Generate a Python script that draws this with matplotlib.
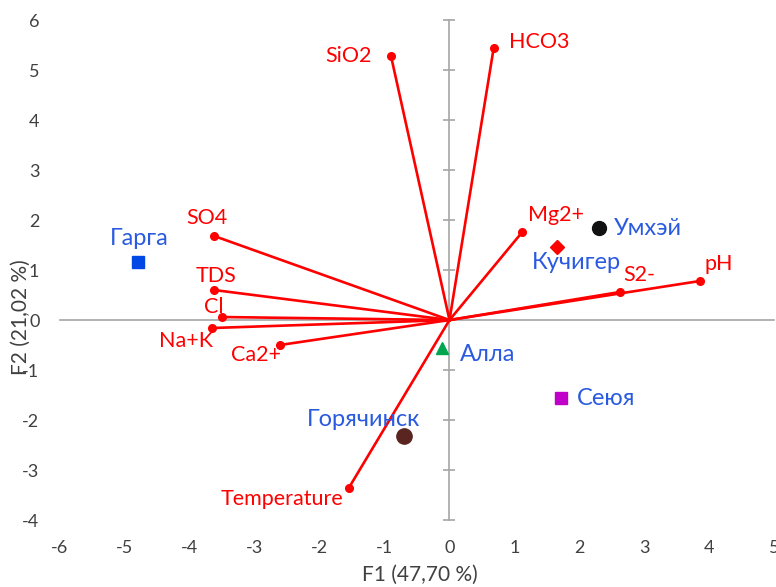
import matplotlib
matplotlib.use("Agg")
import matplotlib.pyplot as plt

plt.rcParams['font.family'] = ['Lato', 'DejaVu Sans']
plt.rcParams['axes.unicode_minus'] = False

# variables (loadings)
var_names = ["SiO2", "HCO3", "SO4", "Mg2+", "TDS", "Cl", "Na+K", "Ca2+", "S2-", "pH", "Temperature"]
var_x = [-0.90, 0.68, -3.62, 1.12, -3.62, -3.50, -3.65, -2.61, 2.62, 3.85, -1.55]
var_y = [5.28, 5.44, 1.68, 1.76, 0.60, 0.06, -0.16, -0.50, 0.56, 0.78, -3.36]

# observations (sites)
obs_names = ["Гарга", "Умхэй", "Кучигер", "Алла", "Сеюя", "Горячинск"]
obs_x = [-4.79, 2.30, 1.65, -0.12, 1.71, -0.70]
obs_y = [1.16, 1.84, 1.46, -0.56, -1.56, -2.32]

# label placement (offset in points, horizontal alignment)
var_off = [(-14, 0, 'right'), (11, 4, 'left'), (-5, 13, 'center'), (24, 12, 'center'),
           (1, 10, 'center'), (-6, 7, 'center'), (-19, -9, 'center'), (-17, -7, 'center'),
           (14, 12, 'center'), (14, 12, 'center'), (-4, -8, 'right')]
obs_style = [('s', '#0047e6', 9), ('o', '#111111', 10), ('D', '#ff0000', 7.5),
             ('^', '#00a550', 9), ('s', '#c000c8', 9), ('o', '#5a2520', 11)]
obs_off = [(1, 17, 'center'), (11, 0, 'left'), (-18, -11, 'left'),
           (13, -5, 'left'), (12, 0, 'left'), (-29, 12, 'center')]

fig = plt.figure(figsize=(7.76, 5.87), dpi=100)
ax = fig.add_axes([0.0767, 0.1141, 0.9213, 0.8518])

gray = '#a6a6a6'
ax.set_xlim(-6, 5)
ax.set_ylim(-4, 6)
ax.set_xticks(range(-6, 6))
ax.set_yticks(range(-4, 7))

ax.spines['left'].set_visible(False)
ax.spines['bottom'].set_visible(False)
ax.spines['right'].set_position(('data', 0))
ax.spines['top'].set_position(('data', 0))
for s in ('right', 'top'):
    ax.spines[s].set_color(gray)
    ax.spines[s].set_linewidth(1.2)
    ax.spines[s].set_zorder(1)

ax.tick_params(axis='y', left=False, right=True, labelleft=True, labelright=False,
               direction='inout', length=9, width=1.2, color=gray, pad=10,
               labelsize=13, labelcolor='#404040')
ax.tick_params(axis='x', bottom=False, top=False, labelbottom=True, labeltop=False,
               pad=11, labelsize=13, labelcolor='#404040')

for i, name in enumerate(var_names):
    ax.plot([0, var_x[i]], [0, var_y[i]], color='#ff0000', lw=1.9, zorder=3)
    ax.plot(var_x[i], var_y[i], 'o', color='#ff0000', ms=5.5, zorder=4)
    dx, dy, ha = var_off[i]
    ax.annotate(name, (var_x[i], var_y[i]), xytext=(dx, dy), textcoords='offset points',
                ha=ha, va='center', color='#ff0000', fontsize=15.5)

for i, name in enumerate(obs_names):
    m, c, s = obs_style[i]
    ax.plot(obs_x[i], obs_y[i], m, color=c, ms=s, zorder=5)
    dx, dy, ha = obs_off[i]
    ax.annotate(name, (obs_x[i], obs_y[i]), xytext=(dx, dy), textcoords='offset points',
                ha=ha, va='center', color='#2a5ae0', fontsize=17)

fig.text(0.541, 0.02, "F1 (47,70 %)", ha='center', va='center', fontsize=15, color='#404040')
fig.text(0.027, 0.46, "F2 (21,02 %)", ha='center', va='center', rotation=90,
         fontsize=15, color='#404040')

fig.savefig("out.png", dpi=100)
